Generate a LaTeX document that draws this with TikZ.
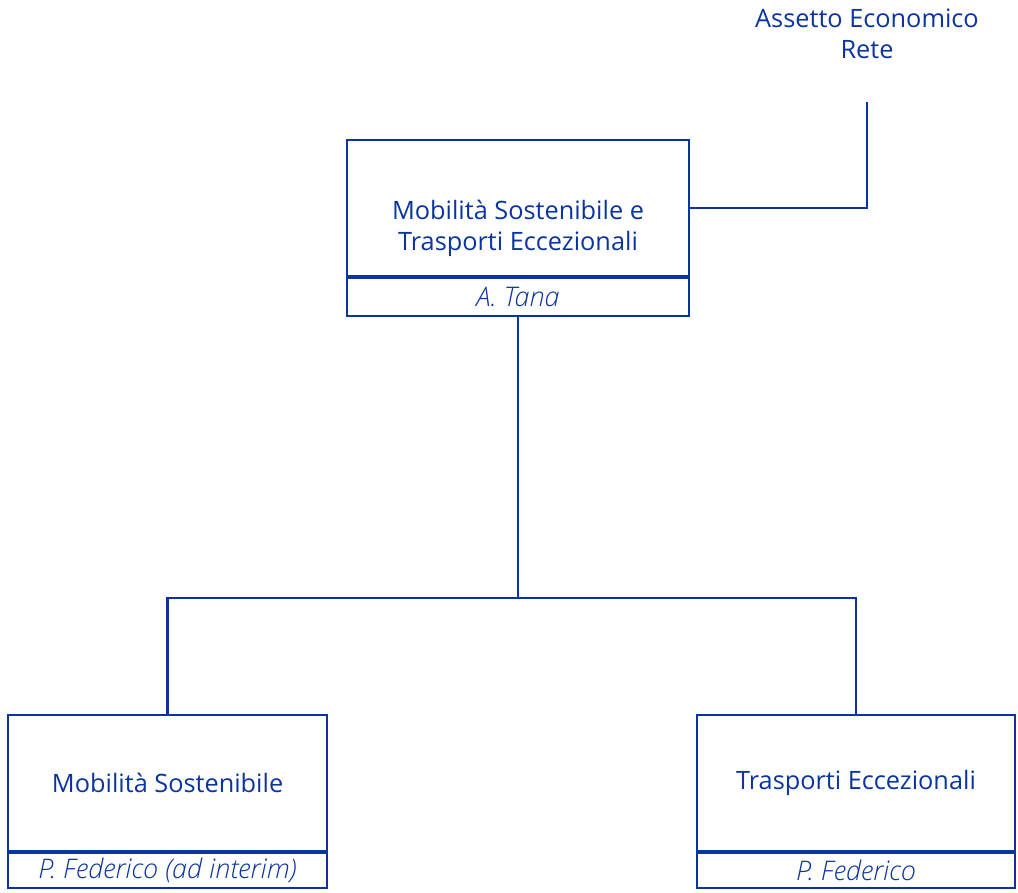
\documentclass[tikz,border=0pt]{standalone}
\usepackage{fontspec}
\setmainfont{Open Sans}
\newfontfamily\lightit{Open Sans Light Italic}
\usetikzlibrary{positioning}
\definecolor{rfiblue}{RGB}{10,52,160}
\tikzset{
    orgbox/.style={rectangle,draw=rfiblue,line width=1.6pt,align=center,text=rfiblue,font=\fontsize{18}{22}\selectfont,minimum height=3.4cm,inner sep=0pt},
    orgname/.style={rectangle,draw=rfiblue,line width=1.6pt,align=center,text=rfiblue,font=\fontsize{19.2}{22}\lightit,minimum height=0.95cm,inner sep=0pt},
    orglabel/.style={align=center,text=rfiblue,font=\fontsize{18}{22.5}\selectfont,inner sep=0pt},
    orgline/.style={draw=rfiblue,line width=1.6pt}
}

\begin{document}
\begin{tikzpicture}
            \useasboundingbox (0,0) rectangle (25.45,-22.325);
            \node[orgbox,minimum width=8.55cm,label={[orglabel,font=\fontsize{18}{22}\selectfont,yshift=-0.5cm]center:Mobilità Sostenibile e\\Trasporti Eccezionali}] (mste) at (12.95,-5.2) {};
            \node[orgname,minimum width=8.55cm,below=0pt of mste] (tana) {A. Tana};
            \node[orgbox,minimum width=7.975cm] (ms) at (4.19,-19.575) {Mobilità Sostenibile};
            \node[orgname,minimum width=7.975cm,minimum height=0.87cm,below=0pt of ms] (msname) {P. Federico (ad interim)};
            \node[orgbox,minimum width=7.95cm] (te) at (21.4,-19.575) {Trasporti Eccezionali};
            \node[orgname,minimum width=7.95cm,minimum height=0.87cm,below=0pt of te] (tename) {P. Federico};
            \node[orglabel] (aer) at (21.675,-0.85) {Assetto Economico\\Rete};
            \coordinate (aerend) at (21.675,-2.55);
            \coordinate (fork) at (12.95,-14.95);
            \draw[orgline] (tana) -- (fork);
            \draw[orgline] (fork) -| (ms);
            \draw[orgline] (fork) -| (te);
            \draw[orgline] (mste) -| (aerend);
        \end{tikzpicture}
\end{document}
